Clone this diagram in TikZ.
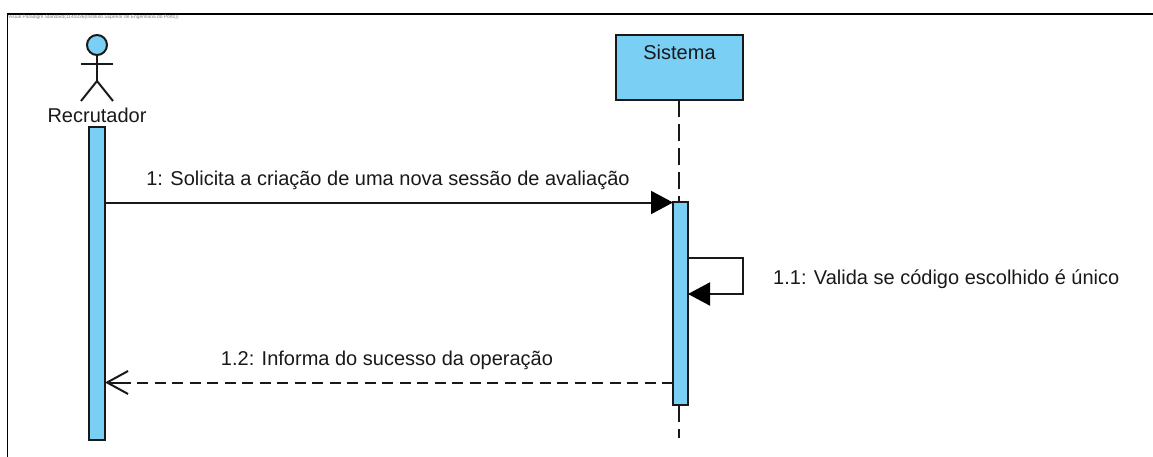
\documentclass[tikz,border=0pt]{standalone}
\usepackage{fontspec}
\setmainfont{Liberation Sans}
\usetikzlibrary{arrows.meta}
\definecolor{vpblue}{RGB}{122,207,245}
\definecolor{inkc}{RGB}{25,25,25}
\tikzset{
  x=1pt,y=-1pt,
  shapebox/.style={draw=inkc,line width=2pt,fill=vpblue,inner sep=0pt,outer sep=0pt,anchor=north west},
  lbl/.style={font=\fontsize{20}{22}\selectfont,text=inkc,inner sep=0pt},
  wire/.style={draw=inkc,line width=2pt},
  ret/.style={wire,dash pattern=on 11pt off 6.5pt},
  life/.style={wire,dash pattern=on 17pt off 7pt},
  solidhead/.style={-{Triangle[black,length=22pt,width=23pt]}},
  openhead/.style={-{Straight Barb[inkc,length=21pt,width=23pt,line width=2pt]}},
  frameline/.style={draw=black,line width=1.7pt}
}
\begin{document}
\begin{tikzpicture}
\useasboundingbox (0,0) rectangle (1153,457);
\draw[frameline] (7.5,457) -- (7.5,14) -- (1153,14);
\node[font=\fontsize{4.85}{6}\selectfont,text=gray,anchor=west,inner sep=0pt] (wm) at (8,17.5) {Visual Paradigm Standard(1140336(Instituto Superior de Engenharia do Porto))};
% actor
\node[circle,draw=inkc,line width=2pt,fill=vpblue,minimum size=20pt,inner sep=0pt,outer sep=0pt] (head) at (97,45) {};
\coordinate (hip) at (97,81);
\coordinate (armL) at (81,64.5);
\coordinate (armR) at (113,64.5);
\coordinate (legL) at (81,101);
\coordinate (legR) at (113,101);
\draw[wire] (head.south) -- (hip);
\draw[wire] (armL) -- (armR);
\draw[wire] (legL) -- (hip) -- (legR);
\node[lbl] (rec) at (97,115) {Recrutador};
% actor bar
\node[shapebox,minimum width=15.5pt,minimum height=313pt] (abar) at (89,127) {};
% system
\node[shapebox,minimum width=127pt,minimum height=65pt] (sys) at (616,35) {};
\node[lbl] (systxt) at (679.5,52) {Sistema};
\coordinate (lifetop) at (678.5,100);
\coordinate (barTopOnLife) at (678.5,202);
\coordinate (barBotOnLife) at (678.5,405);
\coordinate (lifeend) at (678.5,438);
\draw[life] (lifetop) -- (barTopOnLife);
\draw[life] (barBotOnLife) -- (lifeend);
\node[shapebox,minimum width=15pt,minimum height=203pt] (sbar) at (673,202) {};
% message 1
\coordinate (m1a) at (105,202.5);
\coordinate (m1b) at (673,202.5);
\draw[wire,solidhead] (m1a) -- (m1b);
\node[lbl] (t1) at (388,180.5) {1: Solicita a criação de uma nova sessão de avaliação};
% self message
\coordinate (s1) at (688,257.5);
\coordinate (s2) at (743,257.5);
\coordinate (s3) at (743,294);
\coordinate (s4) at (688,294);
\draw[wire,solidhead] (s1) -- (s2) -- (s3) -- (s4);
\node[lbl,anchor=west] (t2) at (773,279.5) {1.1: Valida se código escolhido é único};
% return
\coordinate (r1) at (673,382.5);
\coordinate (r2) at (105,382.5);
\coordinate (r3) at (127,382.5);
\draw[ret] (r1) -- (r3);
\draw[wire,openhead] (r3) -- (r2);
\node[lbl] (t3) at (387,360.5) {1.2: Informa do sucesso da operação};
\end{tikzpicture}
\end{document}
